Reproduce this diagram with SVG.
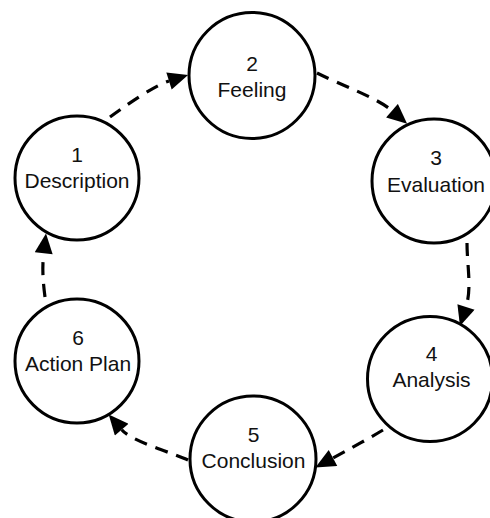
<svg xmlns="http://www.w3.org/2000/svg" width="490" height="518" viewBox="0 0 490 518">
  <defs>
    <marker id="arrow" markerUnits="userSpaceOnUse" markerWidth="21" markerHeight="18" viewBox="0 0 20 18" refX="0" refY="9" orient="auto">
      <path d="M0,0 L20,9 L0,18 Z" fill="#000"/>
    </marker>
    <style>
      .node circle { fill: #fff; stroke: #000; stroke-width: 3; }
      .node text { font-family: "Liberation Sans", Arial, sans-serif; font-size: 21px; fill: #111; text-anchor: middle; }
      .conn path { fill: none; stroke: #000; stroke-width: 3.2; stroke-dasharray: 13 9; marker-end: url(#arrow); }
    </style>
  </defs>
  <rect width="490" height="518" fill="#fff"/>
  <g id="connectors" class="conn">
    <path d="M110,117 C125,106 154,85.7 169,81"/>
    <path d="M317,73 C342,85.5 377,97.7 392,110.7"/>
    <path d="M467,243 C467,265 472,288 466,307"/>
    <path d="M383,430 C368,439 346,451 333,458"/>
    <path d="M188,460 C173,453 131.7,441.4 121.7,429.7"/>
    <path d="M45,297 C43,282 42,268 43.7,253.3"/>
  </g>
  <g id="node1" class="node">
    <circle cx="77" cy="178" r="62"/>
    <text x="77" y="162">1</text>
    <text x="77" y="188">Description</text>
  </g>
  <g id="node2" class="node">
    <circle cx="252" cy="75.5" r="63"/>
    <text x="252" y="71">2</text>
    <text x="252" y="97">Feeling</text>
  </g>
  <g id="node3" class="node">
    <circle cx="434" cy="181" r="62"/>
    <text x="436" y="165">3</text>
    <text x="436" y="191.5">Evaluation</text>
  </g>
  <g id="node4" class="node">
    <circle cx="430" cy="379" r="62.5"/>
    <text x="431.5" y="361">4</text>
    <text x="431.5" y="386.5">Analysis</text>
  </g>
  <g id="node5" class="node">
    <circle cx="253" cy="459" r="63"/>
    <text x="253.5" y="442">5</text>
    <text x="253.5" y="468">Conclusion</text>
  </g>
  <g id="node6" class="node">
    <circle cx="77" cy="361" r="62"/>
    <text x="78" y="345">6</text>
    <text x="78" y="371">Action Plan</text>
  </g>
</svg>
